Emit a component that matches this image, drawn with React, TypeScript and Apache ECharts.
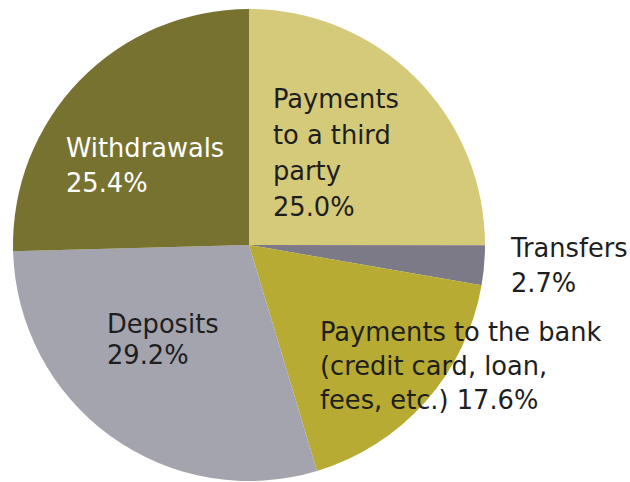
import React, { useEffect, useRef } from "react";
import * as echarts from "echarts";

const categories = [
  "Payments\nto a third\nparty",
  "Transfers",
  "Payments to the bank\n(credit card, loan,\nfees, etc.)",
  "Deposits",
  "Withdrawals",
];
const values = [25.0, 2.7, 17.6, 29.2, 25.4];
const separators = ["\n", "\n", " ", "\n", "\n"];

const colors = ["#d5c97a", "#7b7a86", "#b7ab33", "#a4a4ae", "#787231"];
const textColors = ["#1e1e1e", "#1e1e1e", "#1e1e1e", "#1e1e1e", "#ffffff"];
const labelPos = [
  { x: 273, y: 81, lh: 36 },
  { x: 511, y: 230, lh: 35 },
  { x: 320, y: 315, lh: 34 },
  { x: 107, y: 308, lh: 31 },
  { x: 66, y: 130, lh: 35 },
];

export default function App() {
  const ref = useRef<HTMLDivElement>(null);
  useEffect(() => {
    if (!ref.current) return;
    const chart = echarts.init(ref.current, undefined, { renderer: "svg" });
    chart.setOption({
      animation: false,
      backgroundColor: "#ffffff",
      series: [
        {
          type: "pie",
          center: [249, 245],
          radius: 236,
          startAngle: 90,
          clockwise: true,
          silent: true,
          itemStyle: { borderWidth: 0 },
          labelLine: { show: false },
          data: categories.map((name, i) => ({
            name,
            value: values[i],
            itemStyle: { color: colors[i] },
            label: {
              color: textColors[i],
              lineHeight: labelPos[i].lh,
            },
          })),
          label: {
            show: true,
            position: "inside",
            fontFamily: "DejaVu Sans",
            fontSize: 25.7,
            align: "left",
            formatter: (p: any) =>
              p.name + separators[p.dataIndex] + p.value.toFixed(1) + "%",
          },
          labelLayout: (p: any) => ({
            x: labelPos[p.dataIndex].x,
            y: labelPos[p.dataIndex].y,
            align: "left",
            verticalAlign: "top",
            hideOverlap: false,
            moveOverlap: false,
          }),
        },
      ],
    });
    return () => chart.dispose();
  }, []);
  return (
    <div
      ref={ref}
      style={{ position: "absolute", left: 0, top: 0, width: 630, height: 482 }}
    />
  );
}
